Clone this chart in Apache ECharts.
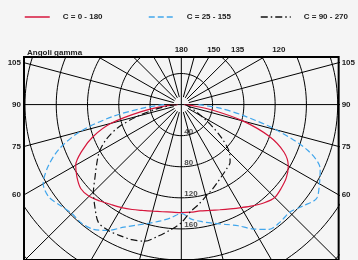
<!DOCTYPE html>
<html><head><meta charset="utf-8">
<script src="https://cdn.jsdelivr.net/npm/echarts@6/dist/echarts.min.js"></script>
<style>html,body{margin:0;padding:0;background:#f5f5f5}#c{width:358px;height:260px}</style>
</head><body><div id="c"></div>
<script>
// gamma angles (deg from nadir) at which intensities are read
const gammaSteps = [0,5,10,15,20,25,30,35,40,45,50,55,60,65,70,75,80,85,90];
// intensities cd/klm
const redC0    = [139,139,139,141,144,148,153,159,165,169,167,164,158,145,120,82,40,12,4];
const redC180  = [139,139,140,142,145,149,153,157,162,167,168,163,156,140,120,93,52,20,5];
const blueC25  = [140,148,153,158,164,172,185,196,197,196,203,211,204,196,172,126,80,48,22];
const blueC155 = [140,146,152,158,165,174,187,196,199,198,202,207,204,188,166,134,90,48,22];
const blackC90 = [150,138,130,122,116,110,105,101,97,87,68,47,30,20,14,10,8,6,5];
const blackC270= [152,162,172,182,185,186,187,185,172,159,144,132,121,106,86,58,32,15,6];
const seriesNames = ['C = 0 - 180','C = 25 - 155','C = 90 - 270'];
const ringValues = [40,80,120,160,200,240,280,320];
const ringLabels = [40,80,120,160];
const spokeAngles = [0,15,30,45,60,75,90,105,120,135,150,165,180,195,210,225,240,255,270,285,300,315,330,345];
const sideGammaLabels = [105,90,75,60];
const topGammaLabels = [180,150,135,120];

const XMAX = 201.25, YMIN = -200, YMAX = 61.25, TOPROW = 72;
const rad = d => d*Math.PI/180;
const pt = (I, g) => [I*Math.sin(rad(g)), -I*Math.cos(rad(g))]; // g measured from nadir, + to the right

function curve(left, right){
  const d = [];
  for (let i = gammaSteps.length-1; i >= 0; i--) d.push(pt(left[i], -gammaSteps[i]));
  for (let i = 1; i < gammaSteps.length; i++) d.push(pt(right[i], gammaSteps[i]));
  return d;
}
const series = [];
ringValues.forEach(r => {
  const d = [];
  for (let a = 0; a <= 360; a += 2) d.push(pt(r, a));
  series.push({type:'line', data:d, symbol:'none', silent:true, lineStyle:{color:'#000', width:1}, z:1});
});
spokeAngles.forEach(a => {
  const inner = (a % 90 === 0) ? 0 : 10;
  series.push({type:'line', data:[pt(inner,a), pt(420,a)], symbol:'none', silent:true, lineStyle:{color:'#000', width:1}, z:1});
});
const styles = [
  {color:'#d6163c', type:'solid'},
  {color:'#41a6ec', type:[6,3]},
  {color:'#111111', type:[7,3,1.5,3]}
];
const curveData = [curve(redC180, redC0), curve(blueC155, blueC25), curve(blackC270, blackC90)];
curveData.forEach((d, i) => {
  series.push({type:'line', name:seriesNames[i], data:d, symbol:'none', smooth:0.3,
    lineStyle:{color:styles[i].color, type:styles[i].type, width:1.2}, itemStyle:{color:styles[i].color}, z:5});
});
series.push({type:'scatter', data:ringLabels.map(r => [0, -r]), symbolSize:0, silent:true, z:6,
  label:{show:true, position:[3,-4], align:'left', verticalAlign:'middle', formatter:p => String(-p.value[1]),
    fontSize:8, fontWeight:'bold', color:'#222', fontFamily:'Liberation Sans'}});

const topXs = topGammaLabels.map(g => TOPROW*Math.tan(rad(180-g)));
const sideYs = sideGammaLabels.map(g => -XMAX/Math.tan(rad(g)));
const nearest = (vals, labs) => v => { let b=0; vals.forEach((x,i)=>{ if (Math.abs(x-v) < Math.abs(vals[b]-v)) b=i; }); return String(labs[b]); };
const lblStyle = {fontSize:8, fontWeight:'bold', color:'#222', fontFamily:'Liberation Sans'};

const legendBase = {top:13, padding:0, itemWidth:25, itemHeight:10, itemStyle:{opacity:0}, lineStyle:{width:1.5},
  textStyle:{fontSize:8, fontWeight:'bold', color:'#222', fontFamily:'Liberation Sans', padding:[0,0,0,8]}};
const chart = echarts.init(document.getElementById('c'), null, {renderer:'canvas'});
chart.setOption({
  backgroundColor:'#f5f5f5',
  animation:false,
  title:[
    {text:'Angoli gamma', left:22, top:44, textStyle:{fontSize:8, fontWeight:'bold', color:'#222', fontFamily:'Liberation Sans'}},
    {text:'cd/klm', right:14, top:254, textStyle:{fontSize:8, fontWeight:'bold', color:'#222', fontFamily:'Liberation Sans'}}
  ],
  legend:[
    Object.assign({}, legendBase, {data:[seriesNames[0]], left:24}),
    Object.assign({}, legendBase, {data:[seriesNames[1]], left:148}),
    Object.assign({}, legendBase, {data:[seriesNames[2]], left:260, itemWidth:30})
  ],
  grid:{left:24, right:12, top:57, height:209, show:true, borderColor:'#000', borderWidth:2, backgroundColor:'transparent'},
  xAxis:[
    {type:'value', min:-XMAX, max:XMAX, show:false},
    {type:'value', min:-XMAX, max:XMAX, position:'top', axisLine:{show:false}, axisTick:{show:false}, splitLine:{show:false},
      axisLabel:Object.assign({customValues:topXs, formatter:nearest(topXs, topGammaLabels), margin:3}, lblStyle)}
  ],
  yAxis:[
    {type:'value', min:YMIN, max:YMAX, position:'left', axisLine:{show:false}, axisTick:{show:false}, splitLine:{show:false},
      axisLabel:Object.assign({customValues:sideYs, formatter:nearest(sideYs, sideGammaLabels), margin:3}, lblStyle)},
    {type:'value', min:YMIN, max:YMAX, position:'right', axisLine:{show:false}, axisTick:{show:false}, splitLine:{show:false},
      axisLabel:Object.assign({customValues:sideYs, formatter:nearest(sideYs, sideGammaLabels), margin:3}, lblStyle)}
  ],
  series:series
});
</script></body></html>
